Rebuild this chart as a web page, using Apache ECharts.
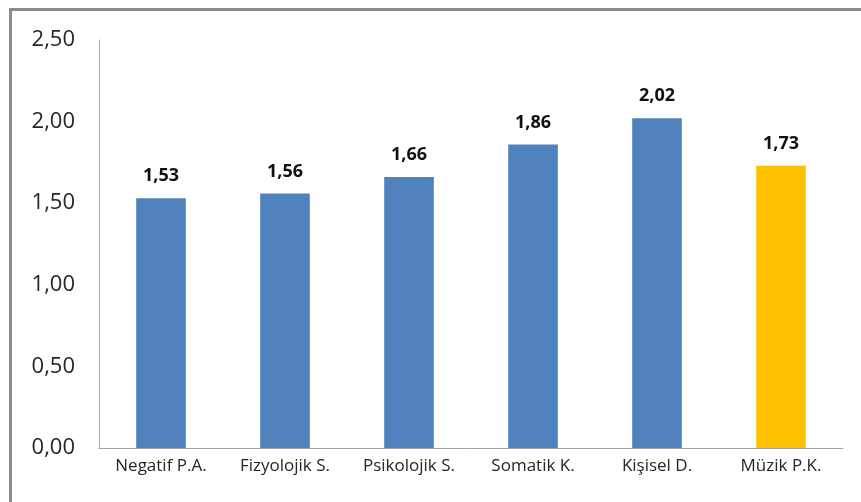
<!DOCTYPE html>
<html>
<head>
<meta charset="utf-8">
<script src="https://cdn.jsdelivr.net/npm/echarts@6/dist/echarts.min.js"></script>
<style>
  html, body { margin: 0; padding: 0; background: #fff; }
  #frame { position: absolute; left: 9px; top: 8px; width: 870px; height: 520px;
           border-left: 3px solid #8c8c8c; border-top: 3px solid #8c8c8c; }
  #chart { position: absolute; left: 0; top: 0; width: 861px; height: 502px; }
</style>
</head>
<body>
<div id="frame"></div>
<div id="chart"></div>
<script>
const categories = ['Negatif P.A.', 'Fizyolojik S.', 'Psikolojik S.', 'Somatik K.', 'Kişisel D.', 'Müzik P.K.'];
const values = [1.53, 1.56, 1.66, 1.86, 2.02, 1.73];
const barColors = ['#4f81bd', '#4f81bd', '#4f81bd', '#4f81bd', '#4f81bd', '#ffc000'];
const FONT = '"Open Sans", "Noto Sans", sans-serif';
const comma = (v) => v.toFixed(2).replace('.', ',');

const chart = echarts.init(document.getElementById('chart'));
chart.setOption({
  animation: false,
  grid: { left: 99, right: 18, top: 40, bottom: 54 },
  xAxis: {
    type: 'category',
    data: categories,
    axisLine: { lineStyle: { color: '#a6a6a6', width: 1 } },
    axisTick: { show: false },
    axisLabel: { color: '#262626', fontFamily: FONT, fontSize: 17, margin: 10 }
  },
  yAxis: {
    type: 'value',
    min: 0, max: 2.5, interval: 0.5,
    axisLine: { show: true, lineStyle: { color: '#a6a6a6', width: 1 } },
    axisTick: { show: false },
    splitLine: { show: false },
    axisLabel: { color: '#262626', fontFamily: FONT, fontSize: 22, margin: 24, formatter: comma }
  },
  series: [{
    type: 'bar',
    barWidth: '40%',
    data: values.map((v, i) => ({ value: v, itemStyle: { color: barColors[i] } })),
    label: {
      show: true, position: 'top', distance: 13,
      fontFamily: FONT, fontWeight: 'bold', fontSize: 18, color: '#111',
      formatter: (p) => comma(p.value)
    }
  }]
});
</script>
</body>
</html>
